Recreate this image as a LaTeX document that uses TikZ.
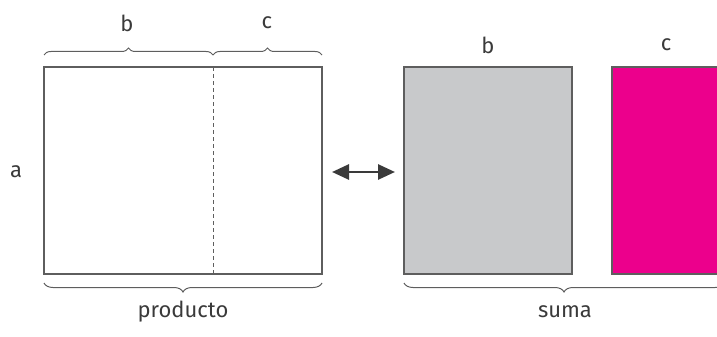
\documentclass[tikz,border=0pt]{standalone}
\usepackage{fontspec}
\setmainfont{Fira Sans}
\usetikzlibrary{decorations.pathreplacing,arrows.meta}
\definecolor{ink}{HTML}{3A3A3A}
\definecolor{edge}{HTML}{5E5E5E}
\definecolor{panelgrey}{HTML}{C8C9CB}
\definecolor{magenta}{HTML}{EC008C}
\tikzset{
  box/.style={draw=edge, line width=1.1pt, inner sep=0pt, outer sep=0pt},
  lbl/.style={text=ink, font=\fontsize{22}{26}\selectfont, inner sep=0pt},
  bracetop/.style={draw=edge, line width=1pt, decorate, decoration={brace, amplitude=7pt}},
  bracebot/.style={draw=edge, line width=1pt, decorate, decoration={brace, mirror, amplitude=9pt}},
  swap/.style={draw=ink, line width=2.8pt, {Triangle[length=17pt,width=15pt]}-{Triangle[length=17pt,width=15pt]}}
}
\begin{document}
\begin{tikzpicture}[x=1pt, y=-1pt]
\useasboundingbox (0,0) rectangle (717,337);
\begin{scope}
\clip (0,0) rectangle (717,337);
% product rectangle a x (b+c)
\node[box, fill=white, minimum width=278pt, minimum height=207pt] (prod) at (183,170.5) {};
\coordinate (splitT) at (213,67);
\coordinate (splitB) at (213,274);
\draw[edge, line width=1pt, dash pattern=on 4pt off 3pt] (splitT) -- (splitB);
% sum of the two rectangles a x b and a x c
\node[box, fill=panelgrey, minimum width=168pt, minimum height=207pt] (gb) at (488,170.5) {};
\node[box, fill=magenta, minimum width=109pt, minimum height=207pt] (mc) at (666.5,170.5) {};
% braces
\coordinate (tl) at (44,55);
\coordinate (tm) at (213,55);
\coordinate (tr) at (322,55);
\draw[bracetop] (tl) -- (tm);
\draw[bracetop] (tm) -- (tr);
\coordinate (pl) at (44,283);
\coordinate (pr) at (322,283);
\draw[bracebot] (pl) -- (pr);
\coordinate (sl) at (404,283);
\coordinate (sr) at (724,283);
\draw[bracebot] (sl) -- (sr);
\end{scope}
% labels
\node[lbl] (lb1) at (127,23) {b};
\node[lbl] (lc1) at (267,23) {c};
\node[lbl] (la) at (16,172) {a};
\node[lbl] (lb2) at (488,45) {b};
\node[lbl] (lc2) at (666,45) {c};
\node[lbl] (lprod) at (183,312) {producto};
\node[lbl] (lsum) at (565,312) {suma};
% equivalence arrow
\draw[swap, shorten <=10pt, shorten >=9pt] ([yshift=-1.5pt]prod.east) -- ([yshift=-1.5pt]gb.west);
\end{tikzpicture}
\end{document}
